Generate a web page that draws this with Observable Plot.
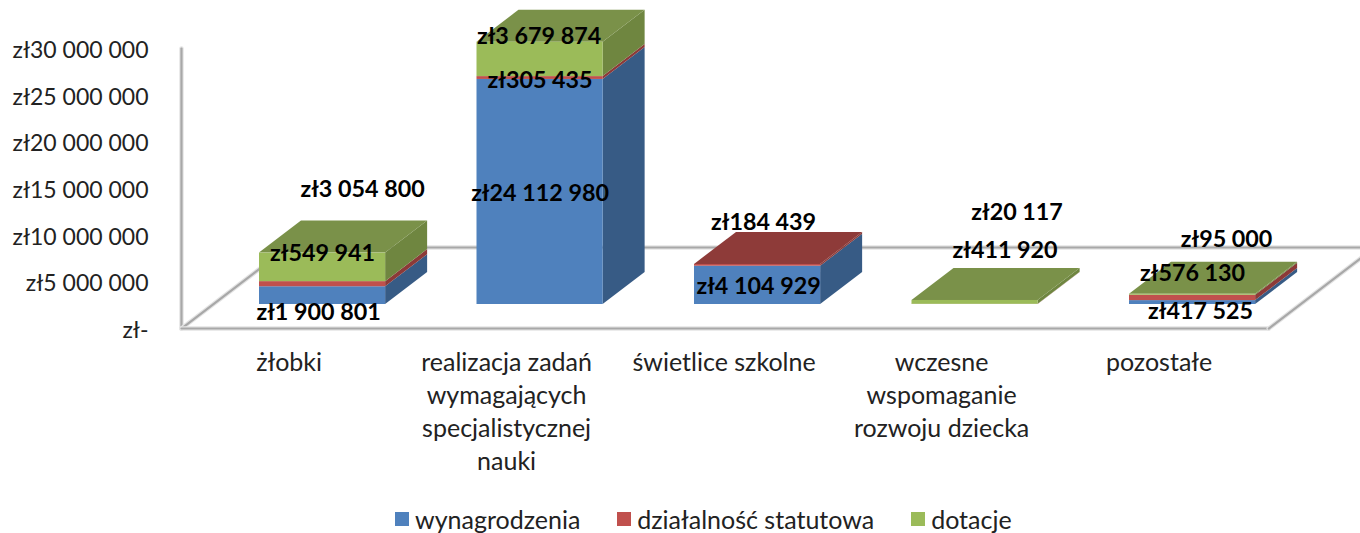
<!DOCTYPE html>
<html lang="pl">
<head>
<meta charset="utf-8">
<script src="https://cdn.jsdelivr.net/npm/d3@7"></script>
<script src="https://cdn.jsdelivr.net/npm/@observablehq/plot@0.6"></script>
<style>
html,body{margin:0;padding:0;background:#fff;overflow:hidden;width:1360px;height:533px;position:relative}
#legend{position:absolute;left:395px;top:499px;height:40px;display:flex;align-items:center;white-space:nowrap}
#legend > div{font-family:Lato,sans-serif !important;font-size:25px !important;color:#222;margin:0 !important;min-height:0 !important;}
#legend span{margin-right:37px !important;}
#legend svg{margin-right:6px !important;}
</style>
</head>
<body>
<div id="chart"></div>
<div id="legend"></div>
<script>
// data
const categories = ["żłobki", "realizacja zadań\nwymagających\nspecjalistycznej\nnauki", "świetlice szkolne", "wczesne\nwspomaganie\nrozwoju dziecka", "pozostałe"];
const seriesNames = ["wynagrodzenia", "działalność statutowa", "dotacje"];
const wynagrodzenia = [1900801, 24112980, 4104929, 0, 417525];
const dzialalnosc = [549941, 305435, 184439, 20117, 576130];
const dotacje = [3054800, 3679874, 0, 411920, 95000];
const yTicks = [0, 5e6, 10e6, 15e6, 20e6, 25e6, 30e6];

// colours: front, side and top shade of each series
const frontColors = ["#4f81bd", "#c0504d", "#9bbb59"];
const sideColors = ["#375b85", "#8c3a38", "#6f8640"];
const topColors = ["#385d8a", "#8e3b39", "#7a9149"];

// oblique projection: a unit of depth shifts by this much in data units
const barWidth = 0.58, depthX = 0.193, depthY = 3.43e6;
const project = (x, z, y) => ({x: x + z * depthX, y: y + z * depthY});

// label placement relative to the centre of its segment: [series][category] = [dx, dy]
const labelNudges = [
  [[-4, 17], [0, 2], [1, 1], null, [8, 9]],
  [[0, -31], [0, 3], [6, -43], [42, -92], [0, -24]],
  [[40, -78], [-1, -23], null, [30, -52], [34, -55]]
];

const values = [wynagrodzenia, dzialalnosc, dotacje];
const segments = [];
categories.forEach((c, i) => {
  let base = 0;
  values.forEach((v, s) => {
    if (v[i] > 0) {
      segments.push({i, s, value: v[i], y1: base, y2: base + v[i], series: seriesNames[s]});
      base += v[i];
    }
  });
});

const money = (v) => "zł" + d3.format(",")(v).replace(/,/g, " ");
const font = "Lato, sans-serif";

const marks = [];

// floor and wall lines
const fL = -0.214, fR = 4.785, zF = -0.75, zB = 1.78;
const frameLines = [
  [[fL, zF, 0], [fL, zF, 30e6]],
  [[fL, zF, 0], [fL, zB, 0]],
  [[fL, zB, 0], [fR, zB, 0]],
  [[fL, zF, 0], [fR, zF, 0]],
  [[fR, zF, 0], [fR, zB, 0]]
];
for (const seg of frameLines) {
  const pts = seg.map(([x, z, y]) => project(x, z, y));
  marks.push(Plot.line(pts, {x: "x", y: "y", stroke: "#e4e4e4", strokeWidth: 4.5}));
  marks.push(Plot.line(pts, {x: "x", y: "y", stroke: "#a8a8a8", strokeWidth: 2.2}));
}

// side and top faces
for (const d of segments) {
  const r = d.i + barWidth;
  marks.push(Plot.areaY([0, 1], {
    x: (t) => r + t * depthX,
    y1: (t) => d.y1 + t * depthY,
    y2: (t) => d.y2 + t * depthY,
    fill: sideColors[d.s]
  }));
}
categories.forEach((c, i) => {
  const segs = segments.filter((d) => d.i === i);
  const top = segs[segs.length - 1];
  marks.push(Plot.areaX([0, 1], {
    y: (t) => top.y2 + t * depthY,
    x1: (t) => i + t * depthX,
    x2: (t) => i + barWidth + t * depthX,
    fill: topColors[top.s]
  }));
});

// front faces
marks.push(Plot.rect(segments, {
  x1: "i",
  x2: (d) => d.i + barWidth,
  y1: "y1",
  y2: "y2",
  fill: "series"
}));

// value axis, at the front of the floor
marks.push(Plot.axisY({
  ticks: yTicks,
  tickSize: 0,
  tickPadding: 0,
  dy: 26,
  label: null,
  tickFormat: (d) => d === 0 ? "zł-" : money(d),
  fontSize: 23,
  fill: "#222"
}));

// category labels
marks.push(Plot.text(categories, {
  x: (c, i) => project(i + barWidth / 2, zF, 0).x,
  y: 0,
  text: (c) => c,
  dx: -2,
  dy: 43,
  lineAnchor: "top",
  lineHeight: 1.32,
  fontSize: 25,
  fill: "#222"
}));

// data labels
for (const d of segments) {
  const [dx, dy] = labelNudges[d.s][d.i];
  marks.push(Plot.text([d], {
    x: d.i + barWidth / 2,
    y: (d.y1 + d.y2) / 2,
    text: (e) => money(e.value),
    dx, dy,
    fontSize: 23.3,
    fontWeight: 700,
    fill: "#000"
  }));
}

const colorOptions = {domain: seriesNames, range: frontColors};

const chart = Plot.plot({
  width: 1360,
  height: 500,
  marginLeft: 148,
  marginRight: 0,
  marginTop: 0,
  marginBottom: 0,
  style: {fontFamily: font, background: "#fff", overflow: "visible"},
  x: {domain: [0, 4], range: [259, 1129], axis: null},
  y: {domain: [0, 30e6], range: [304, 24], axis: null},
  color: colorOptions,
  marks
});
document.getElementById("chart").appendChild(chart);

const legend = Plot.legend({color: colorOptions, swatchSize: 14, swatchWidth: 14, swatchHeight: 14});
document.getElementById("legend").appendChild(legend);
</script>
</body>
</html>
